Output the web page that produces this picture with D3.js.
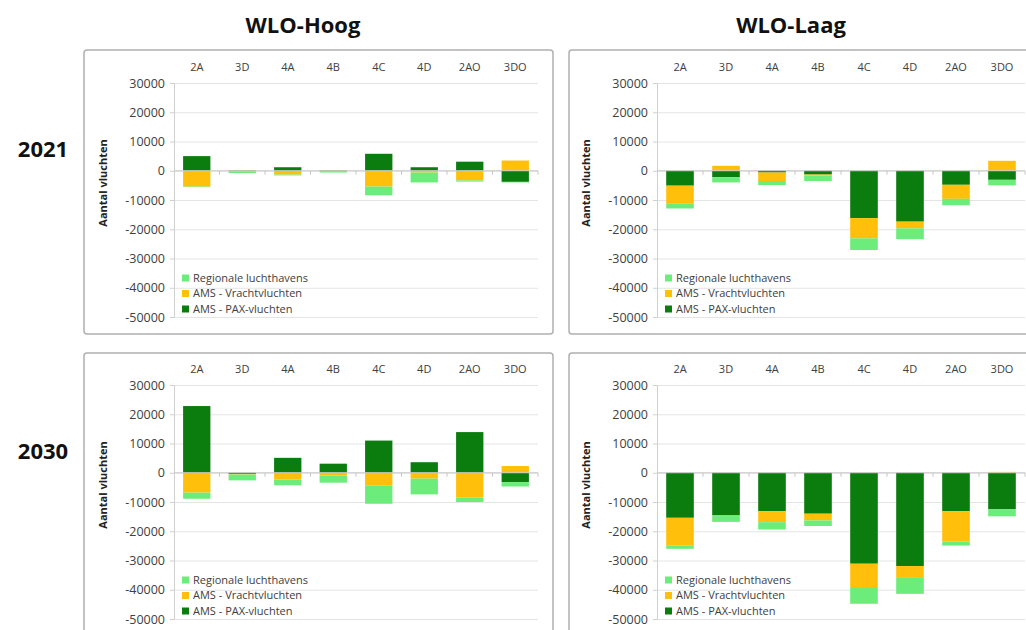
<!DOCTYPE html>
<html>
<head>
<meta charset="utf-8">
<script src="https://cdn.jsdelivr.net/npm/d3@7"></script>
<style>
  body { margin: 0; background: #fff; }
  svg { font-family: 'Open Sans', sans-serif; }
  .title { font-weight: 700; font-size: 22px; fill: #111; }
  .tick text { fill: #404040; }
</style>
</head>
<body>
<svg id="chart" width="1026" height="630"></svg>
<script>
/* categories (scenarios) */
const categories = ['2A', '3D', '4A', '4B', '4C', '4D', '2AO', '3DO']

/* series names, in stack order (closest to zero first) */
const seriesKeys = ['pax', 'vracht', 'regio']
const legendLabels = ['Regionale luchthavens', 'AMS - Vrachtvluchten', 'AMS - PAX-vluchten']

/* y-axis ticks */
const yTicks = [30000, 20000, 10000, 0, -10000, -20000, -30000, -40000, -50000]

/* WLO-Hoog 2021 */
const paxHoog2021 = [5000, 200, 1200, 200, 5800, 1200, 3100, -3800]
const vrachtHoog2021 = [-5400, -200, -1300, -100, -5400, -600, -3300, 3500]
const regioHoog2021 = [-200, -600, -300, -500, -3000, -3400, -400, -200]

/* WLO-Laag 2021 */
const paxLaag2021 = [-5100, -2200, -600, -1300, -16200, -17400, -4800, -3100]
const vrachtLaag2021 = [-6200, 1700, -2900, -300, -6900, -2300, -4800, 3400]
const regioLaag2021 = [-1600, -1800, -1400, -1900, -4000, -3700, -2200, -1900]

/* WLO-Hoog 2030 */
const paxHoog2030 = [22800, -400, 5100, 3100, 11000, 3600, 13900, -3200]
const vrachtHoog2030 = [-6800, -200, -2300, -1000, -4300, -2000, -8500, 2300]
const regioHoog2030 = [-2100, -2000, -2000, -2400, -6300, -5400, -1500, -1500]

/* WLO-Laag 2030 */
const paxLaag2030 = [-15400, -14600, -13100, -14000, -31100, -31900, -13100, -12500]
const vrachtLaag2030 = [-9500, -200, -3800, -2300, -8300, -3800, -10400, 300]
const regioLaag2030 = [-1100, -2000, -2500, -1900, -5400, -5700, -1400, -2400]

/* scenario titles and year labels */
const colTitles = ['WLO-Hoog', 'WLO-Laag']
const rowTitles = ['2021', '2030']

/* panel layout */
const cols = [
  { border: 84, borderW: 469, axis: 174, right: 538, title: 303 },
  { border: 569, borderW: 480, axis: 657, right: 1025, title: 791 }
]
const rows = [
  { border: 50, top: 83, bottom: 317, catY: 67, labelY: 157 },
  { border: 353, top: 385, bottom: 619, catY: 369, labelY: 459 }
]

const panels = [
  { r: 0, c: 0, pax: paxHoog2021, vracht: vrachtHoog2021, regio: regioHoog2021 },
  { r: 0, c: 1, pax: paxLaag2021, vracht: vrachtLaag2021, regio: regioLaag2021 },
  { r: 1, c: 0, pax: paxHoog2030, vracht: vrachtHoog2030, regio: regioHoog2030 },
  { r: 1, c: 1, pax: paxLaag2030, vracht: vrachtLaag2030, regio: regioLaag2030 }
]

/* colours */
const colorPal = d3
  .scaleOrdinal()
  .domain(['regio', 'vracht', 'pax'])
  .range(['#6cec7a', '#ffbf0a', '#0b7c0e'])

const svg = d3.select('#chart')

/* column titles */
svg
  .selectAll('text.col-title')
  .data(colTitles)
  .join('text')
  .attr('class', 'title col-title')
  .attr('x', (d, i) => cols[i].title)
  .attr('y', 33)
  .attr('text-anchor', 'middle')
  .text((d) => d)

/* row titles */
svg
  .selectAll('text.row-title')
  .data(rowTitles)
  .join('text')
  .attr('class', 'title row-title')
  .attr('x', 43)
  .attr('y', (d, i) => rows[i].labelY)
  .attr('text-anchor', 'middle')
  .text((d) => d)

/* fn: draw one panel */
function drawPanel(p) {
  const col = cols[p.c]
  const row = rows[p.r]

  const g = svg.append('g')

  /* chart border */
  g.append('rect')
    .attr('x', col.border)
    .attr('y', row.border)
    .attr('width', col.borderW)
    .attr('height', 284)
    .attr('rx', 3)
    .attr('fill', '#fff')
    .attr('stroke', '#b0b0b0')
    .attr('stroke-width', 1.5)

  const x = d3
    .scaleBand()
    .domain(categories)
    .range([col.axis, col.right])
    .paddingInner(0.4)
    .paddingOuter(0.2)

  const y = d3.scaleLinear().domain([-50000, 30000]).range([row.bottom, row.top])

  /* gridlines */
  g.append('g')
    .attr('transform', `translate(${col.axis}, 0)`)
    .call(d3.axisLeft(y).tickValues(yTicks).tickSize(-(col.right - col.axis)).tickFormat(''))
    .call((g) => g.select('.domain').remove())
    .call((g) => g.selectAll('.tick line').attr('stroke', '#e4e4e4'))

  /* y-axis */
  g.append('g')
    .attr('transform', `translate(${col.axis}, 0)`)
    .call(d3.axisLeft(y).tickValues(yTicks).tickSize(4).tickPadding(5).tickFormat((d) => String(d)))
    .call((g) => g.select('.domain').attr('stroke', '#d0d0d0'))
    .call((g) => g.selectAll('.tick line').attr('stroke', '#d0d0d0'))
    .call((g) => g.selectAll('.tick text').style('font-size', '12.5px').style('font-family', 'Open Sans'))

  /* category labels on top */
  g.append('g')
    .attr('transform', `translate(0, ${row.catY + 4})`)
    .call(d3.axisTop(x).tickSize(0).tickPadding(0))
    .call((g) => g.select('.domain').remove())
    .call((g) => g.selectAll('.tick text').style('font-size', '11px').style('font-family', 'Open Sans').attr('fill', '#595959'))

  /* stacked bars */
  const table = categories.map((cat, i) => ({
    cat,
    pax: p.pax[i],
    vracht: p.vracht[i],
    regio: p.regio[i]
  }))
  const stacked = d3.stack().keys(seriesKeys).offset(d3.stackOffsetDiverging)(table)

  g.append('g')
    .selectAll('g')
    .data(stacked)
    .join('g')
    .attr('fill', (s) => colorPal(s.key))
    .selectAll('rect')
    .data((s) => s)
    .join('rect')
    .attr('x', (d) => x(d.data.cat))
    .attr('width', x.bandwidth())
    .attr('y', (d) => y(Math.max(d[0], d[1])))
    .attr('height', (d) => Math.abs(y(d[0]) - y(d[1])))

  /* zero line with category separators */
  const bounds = categories.map((c) => x(c) - (x.step() * x.paddingInner()) / 2).slice(1)
  bounds.push(col.right)
  g.append('line')
    .attr('x1', col.axis)
    .attr('x2', col.right)
    .attr('y1', y(0))
    .attr('y2', y(0))
    .attr('stroke', '#c8c8c8')
  g.append('g')
    .selectAll('line')
    .data(bounds)
    .join('line')
    .attr('x1', (d) => d)
    .attr('x2', (d) => d)
    .attr('y1', y(0))
    .attr('y2', y(0) + 4)
    .attr('stroke', '#c8c8c8')

  /* y-axis title */
  g.append('text')
    .attr('transform', `translate(${col.axis - 72}, ${row.top + 100}) rotate(-90)`)
    .attr('text-anchor', 'middle')
    .attr('dominant-baseline', 'central')
    .style('font-size', '11px')
    .style('font-weight', 700)
    .attr('fill', '#222')
    .text('Aantal vluchten')

  /* legend */
  const leg = g
    .selectAll('g.legend')
    .data(['regio', 'vracht', 'pax'])
    .join('g')
    .attr('class', 'legend')
    .attr('transform', (d, i) => `translate(${col.axis + 8}, ${row.top + 195 + i * 15.5})`)
  leg.append('rect').attr('x', 0).attr('y', -3.5).attr('width', 7).attr('height', 7).attr('fill', (d) => colorPal(d))
  leg
    .append('text')
    .attr('x', 11)
    .attr('dy', '0.35em')
    .style('font-size', '11px')
    .attr('fill', '#404040')
    .text((d, i) => legendLabels[i])
}

panels.forEach(drawPanel)
</script>
</body>
</html>
